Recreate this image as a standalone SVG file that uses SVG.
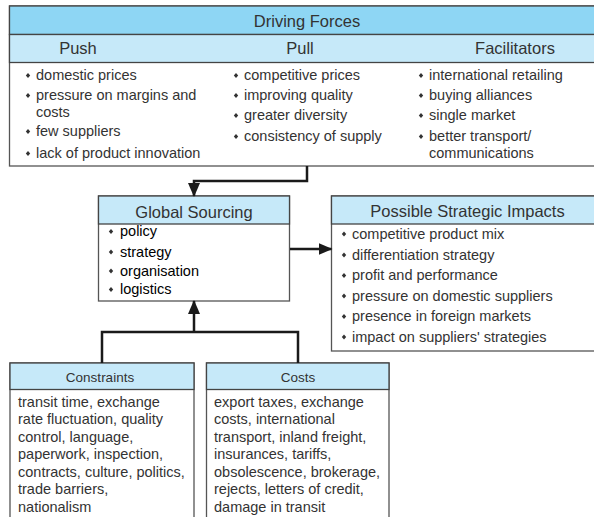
<svg xmlns="http://www.w3.org/2000/svg" width="594" height="517" viewBox="0 0 594 517">
<defs>
<style>
.box{fill:#fff;stroke:#555;stroke-width:1.3}
.hd1{fill:#8ed6f4;stroke:#444;stroke-width:1.3}
.hd2{fill:#c6e9f9;stroke:#444;stroke-width:1.3}
text{font-family:"Liberation Sans",Arial,sans-serif;fill:#333}
.h{font-size:16.5px;text-anchor:middle}
.hs{font-size:13.5px;text-anchor:middle}
.t{font-size:14.5px}
.k{fill:#000}
.c{fill:none;stroke:#1a1a1a;stroke-width:2.5}
</style>
<marker id="ah" markerUnits="userSpaceOnUse" markerWidth="14" markerHeight="14" viewBox="0 0 14 12" refX="13" refY="6" orient="auto">
<path d="M0,0 L14,6 L0,12 Z" fill="#1a1a1a"/>
</marker>
<path id="b" d="M0,-2.6 L2.2,0 L0,2.6 L-2.2,0 Z" fill="#333"/>
</defs>

<g id="driving-forces">
<rect class="box" x="9.5" y="6" width="600" height="160"/>
<rect class="hd1" x="9.5" y="6" width="600" height="28.5"/>
<rect class="hd2" x="9.5" y="34.5" width="600" height="28"/>
<text class="h" x="307" y="26.5">Driving Forces</text>
<text class="h" x="78" y="53.5">Push</text>
<text class="h" x="300" y="53.5">Pull</text>
<text class="h" x="515" y="53.5">Facilitators</text>
<g>
<use href="#b" x="28" y="75.5"/><text class="t" x="36" y="80">domestic prices</text>
<use href="#b" x="28" y="95.5"/><text class="t" x="36" y="100">pressure on margins and</text>
<text class="t" x="36" y="117">costs</text>
<use href="#b" x="28" y="131.5"/><text class="t" x="36" y="136">few suppliers</text>
<use href="#b" x="28" y="153.5"/><text class="t" x="36" y="158">lack of product innovation</text>
</g>
<g>
<use href="#b" x="236" y="75.5"/><text class="t" x="244" y="80">competitive prices</text>
<use href="#b" x="236" y="95.5"/><text class="t" x="244" y="100">improving quality</text>
<use href="#b" x="236" y="115.5"/><text class="t" x="244" y="120">greater diversity</text>
<use href="#b" x="236" y="136.5"/><text class="t" x="244" y="141">consistency of supply</text>
</g>
<g>
<use href="#b" x="421" y="75.5"/><text class="t" x="429" y="80">international retailing</text>
<use href="#b" x="421" y="95.5"/><text class="t" x="429" y="100">buying alliances</text>
<use href="#b" x="421" y="115.5"/><text class="t" x="429" y="120">single market</text>
<use href="#b" x="421" y="136.5"/><text class="t" x="429" y="141">better transport/</text>
<text class="t" x="429" y="158">communications</text>
</g>
</g>

<g id="global-sourcing">
<rect class="box" x="98.5" y="196" width="191" height="105"/>
<rect class="hd2" x="98.5" y="196" width="191" height="28"/>
<text class="h" x="194" y="217.5">Global Sourcing</text>
<use href="#b" x="111" y="231.5"/><text class="t k" x="120" y="236">policy</text>
<use href="#b" x="111" y="252"/><text class="t k" x="120" y="256.5">strategy</text>
<use href="#b" x="111" y="271"/><text class="t k" x="120" y="275.5">organisation</text>
<use href="#b" x="111" y="289.5"/><text class="t k" x="120" y="294">logistics</text>
</g>

<g id="strategic-impacts">
<rect class="box" x="331.5" y="196" width="280" height="155"/>
<rect class="hd2" x="331.5" y="196" width="280" height="28"/>
<text class="h" x="467.5" y="217">Possible Strategic Impacts</text>
<use href="#b" x="344" y="234"/><text class="t" x="352" y="238.5">competitive product mix</text>
<use href="#b" x="344" y="255"/><text class="t" x="352" y="259.5">differentiation strategy</text>
<use href="#b" x="344" y="275.5"/><text class="t" x="352" y="280">profit and performance</text>
<use href="#b" x="344" y="296"/><text class="t" x="352" y="300.5">pressure on domestic suppliers</text>
<use href="#b" x="344" y="316.5"/><text class="t" x="352" y="321">presence in foreign markets</text>
<use href="#b" x="344" y="337"/><text class="t" x="352" y="341.5">impact on suppliers' strategies</text>
</g>

<g id="constraints">
<rect class="box" x="10" y="363" width="184" height="170"/>
<rect class="hd2" x="10" y="363" width="184" height="26.5"/>
<text class="hs" x="100" y="381.5">Constraints</text>
<text class="t" x="18" y="406.5">transit time, exchange</text>
<text class="t" x="18" y="424">rate fluctuation, quality</text>
<text class="t" x="18" y="441.5">control, language,</text>
<text class="t" x="18" y="459">paperwork, inspection,</text>
<text class="t" x="18" y="476.5">contracts, culture, politics,</text>
<text class="t" x="18" y="494">trade barriers,</text>
<text class="t" x="18" y="511.5">nationalism</text>
</g>

<g id="costs">
<rect class="box" x="206.5" y="363" width="182.5" height="170"/>
<rect class="hd2" x="206.5" y="363" width="182.5" height="26.5"/>
<text class="hs" x="298" y="381.5">Costs</text>
<text class="t" x="214" y="406.5">export taxes, exchange</text>
<text class="t" x="214" y="424">costs, international</text>
<text class="t" x="214" y="441.5">transport, inland freight,</text>
<text class="t" x="214" y="459">insurances, tariffs,</text>
<text class="t" x="214" y="476.5">obsolescence, brokerage,</text>
<text class="t" x="214" y="494">rejects, letters of credit,</text>
<text class="t" x="214" y="511.5">damage in transit</text>
</g>

<g id="connectors">
<path class="c" d="M307,166 V181 H194 V196" marker-end="url(#ah)"/>
<path class="c" d="M290,249 H331.5" marker-end="url(#ah)"/>
<path class="c" d="M102,363 V332 H298 V363"/>
<path class="c" d="M194,332 V301" marker-end="url(#ah)"/>
</g>
</svg>
